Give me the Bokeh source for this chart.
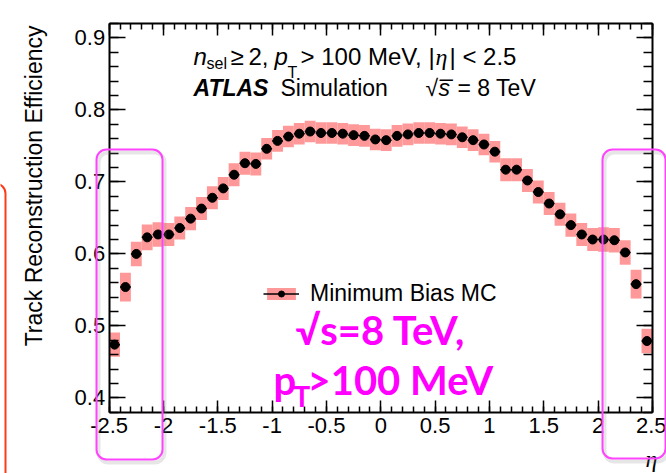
import math
from bokeh.plotting import figure
from bokeh.models import (LinearAxis, SingleIntervalTicker, CustomJSTickFormatter, Label,
                          BoxAnnotation, Legend, LegendItem, Range1d, ColumnDataSource)
from bokeh.embed import file_html
from bokeh.resources import INLINE

# Pseudorapidity bin centres (bin width 0.1)
eta = [-2.45, -2.35, -2.25, -2.15, -2.05, -1.95, -1.85, -1.75, -1.65, -1.55,
       -1.45, -1.35, -1.25, -1.15, -1.05, -0.95, -0.85, -0.75, -0.65, -0.55,
       -0.45, -0.35, -0.25, -0.15, -0.05, 0.05, 0.15, 0.25, 0.35, 0.45,
       0.55, 0.65, 0.75, 0.85, 0.95, 1.05, 1.15, 1.25, 1.35, 1.45,
       1.55, 1.65, 1.75, 1.85, 1.95, 2.05, 2.15, 2.25, 2.35, 2.45]

# Track reconstruction efficiency per bin
efficiency = [0.474, 0.554, 0.600, 0.623, 0.627, 0.627, 0.636, 0.649, 0.663, 0.678,
              0.691, 0.710, 0.726, 0.725, 0.746, 0.757, 0.763, 0.767, 0.770, 0.768,
              0.768, 0.767, 0.765, 0.764, 0.759, 0.758, 0.764, 0.766, 0.768, 0.768,
              0.767, 0.766, 0.762, 0.758, 0.752, 0.742, 0.717, 0.717, 0.702, 0.686,
              0.670, 0.655, 0.640, 0.627, 0.620, 0.620, 0.619, 0.602, 0.558, 0.479]

# Systematic uncertainty (half height of the shaded band)
uncertainty = [0.017, 0.020, 0.017, 0.018, 0.017, 0.016, 0.016, 0.016, 0.016, 0.016,
               0.016, 0.016, 0.016, 0.016, 0.015, 0.015, 0.015, 0.015, 0.015, 0.015,
               0.015, 0.015, 0.015, 0.015, 0.015, 0.015, 0.015, 0.015, 0.015, 0.015,
               0.015, 0.015, 0.015, 0.015, 0.015, 0.015, 0.016, 0.016, 0.016, 0.016,
               0.016, 0.016, 0.016, 0.016, 0.016, 0.017, 0.017, 0.017, 0.020, 0.017]

half_bin = 0.05

src = ColumnDataSource(dict(
    eta=eta, eff=efficiency,
    left=[x - half_bin for x in eta], right=[x + half_bin for x in eta],
    lo=[v - u for v, u in zip(efficiency, uncertainty)],
    hi=[v + u for v, u in zip(efficiency, uncertainty)],
))

W, H = 666, 473
# The frame spans the whole canvas; axes are pinned at the histogram edges.
X0, X1 = -3.5, 2.63
Y0, Y1 = 0.295, 0.952
ETA_MIN, ETA_MAX = -2.5, 2.5
EFF_MIN, EFF_MAX = 0.38, 0.92

p = figure(width=W, height=H, x_range=Range1d(X0, X1), y_range=Range1d(Y0, Y1),
           x_axis_type=None, y_axis_type=None,
           output_backend="svg", toolbar_location=None, min_border=0)
p.grid.visible = False
p.outline_line_color = None
p.background_fill_color = "white"
p.border_fill_color = "white"


def cx(px):
    return X0 + px * (X1 - X0) / W


def cy(py):
    return Y1 - py * (Y1 - Y0) / H


SANS = "Liberation Sans"
fmt = CustomJSTickFormatter(code="return (Math.round(tick * 10) / 10).toString();")
blank = CustomJSTickFormatter(code="return '';")


def make_axis(ticker, loc, bounds, major, minor, labels, standoff=4):
    ax = LinearAxis(ticker=ticker, fixed_location=loc, bounds=bounds)
    ax.major_tick_in = major
    ax.major_tick_out = 0
    ax.minor_tick_in = minor
    ax.minor_tick_out = 0
    ax.axis_line_width = 2
    ax.major_tick_line_width = 1.5
    ax.minor_tick_line_width = 1.5
    ax.axis_line_color = "black"
    ax.major_tick_line_color = "black"
    ax.minor_tick_line_color = "black"
    if labels:
        ax.formatter = fmt
        ax.major_label_text_font = SANS
        ax.major_label_text_font_size = "22px"
        ax.major_label_text_color = "black"
        ax.major_label_standoff = standoff
    else:
        ax.formatter = blank
        ax.major_label_text_font_size = "0px"
        ax.major_label_standoff = 0
    return ax


xticks = SingleIntervalTicker(interval=0.5, num_minor_ticks=5)
yticks = SingleIntervalTicker(interval=0.1, num_minor_ticks=5)

p.add_layout(make_axis(xticks, EFF_MIN, (ETA_MIN, ETA_MAX), 12, 6, True, 6), "below")
p.add_layout(make_axis(xticks, EFF_MAX, (ETA_MIN, ETA_MAX), 12, 6, False), "above")
p.add_layout(make_axis(yticks, ETA_MIN, (EFF_MIN, EFF_MAX), 16, 9, True, 4), "left")
p.add_layout(make_axis(yticks, ETA_MAX, (EFF_MIN, EFF_MAX), 16, 9, False), "right")

band = p.quad(left="left", right="right", bottom="lo", top="hi", source=src,
              fill_color="#ff9999", line_color=None)
bars = p.segment(x0="left", x1="right", y0="eff", y1="eff", source=src,
                 line_color="black", line_width=1.5)
dots = p.scatter(x="eta", y="eff", source=src, size=9, fill_color="black", line_color="black")

legend = Legend(items=[LegendItem(label="Minimum Bias MC", renderers=[band, bars, dots])],
                location=(263, 166), glyph_width=36, glyph_height=15, label_standoff=11,
                padding=0, margin=0, border_line_color=None, background_fill_alpha=0,
                label_text_font=SANS, label_text_font_size="23px", label_text_color="black")
p.add_layout(legend, "center")


def txt(px, py, s, size=23, font=SANS, style="normal", color="black", align="left", angle=0):
    p.add_layout(Label(x=cx(px), y=cy(py), text=s, text_font=font, text_font_size=f"{size}px",
                       text_font_style=style, text_color=color, text_align=align,
                       text_baseline="alphabetic", angle=angle))


# Selection line
txt(193, 56, "n", size=24, style="italic")
txt(206, 63, "sel", size=16)
txt(230, 56, "\u2265\u20092,", size=24)
txt(274, 56, "p", size=24, style="italic")
txt(287, 72, "T", size=16)
txt(300, 56, "> 100 MeV,", size=24)
txt(428, 56, "|", size=24)
txt(435, 56, "\u03b7", size=24, font="Liberation Serif", style="italic")
txt(449, 56, "| < 2.5", size=24)

# Experiment line
txt(193, 87, "ATLAS", style="bold italic")
txt(280, 87, "Simulation")
txt(425, 87, "\u221a")
txt(438, 87, "s\u0305", style="italic")
txt(457, 87, "= 8 TeV")

# Axis titles
txt(33, 25, "Track Reconstruction Efficiency", align="right", angle=math.pi / 2)
txt(645, 458, "\u03b7", size=24, font="Liberation Serif", style="italic")

# Highlight text
MAG = "#ff00ff"
txt(380, 329, "\u221as=8 TeV,", size=40, font="Lato", style="bold", color=MAG, align="center")
txt(273, 379, "p", size=40, font="Lato", style="bold", color=MAG)
txt(293, 395, "T", size=28, font="Lato", style="bold", color=MAG)
txt(307, 379, ">100 MeV", size=40, font="Lato", style="bold", color=MAG)


def frame_box(l, t, r, b, color, width=2, alpha=1.0):
    p.add_layout(BoxAnnotation(left=cx(l), right=cx(r), top=cy(t), bottom=cy(b),
                               fill_color=None, fill_alpha=0, line_color=color,
                               line_alpha=alpha, line_width=width, border_radius=10))


# Highlight frames around the forward regions (soft shadow first)
for l, t, r, b in [(96, 149, 162, 459), (602, 149, 665, 458)]:
    frame_box(l + 2, t + 3, r + 2, b + 3, "#808080", width=4, alpha=0.2)
    frame_box(l, t, r, b, "#ff44ff")

frame_box(-60, 183, 5, 620, "#ff3a1a")

open("out.html", "w").write(file_html(p, INLINE))
